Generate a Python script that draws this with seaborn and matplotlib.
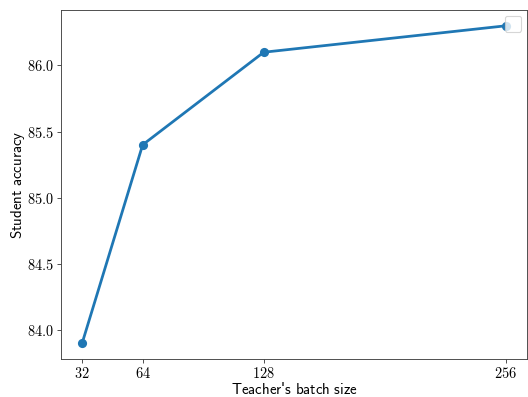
import matplotlib
matplotlib.use("Agg")
import matplotlib.pyplot as plt
import matplotlib.ticker as mticker
import seaborn as sns
import pandas as pd

batch_sizes = [32, 64, 128, 256]
accuracy = [83.9, 85.4, 86.1, 86.3]
xtick_labels = ["32", "64", "128", "256"]

plt.rcParams["mathtext.fontset"] = "cm"

df = pd.DataFrame({"batch": batch_sizes, "acc": accuracy})

DPI = 82.5
fig = plt.figure(figsize=(528 / DPI, 397 / DPI), dpi=DPI)
ax = fig.add_axes([0.1155, 0.0957, 0.8825, 0.8793])
sns.lineplot(data=df, x="batch", y="acc", marker="o", markersize=8,
             linewidth=2.4, color="#1f77b4", markeredgewidth=0, ax=ax)

ax.set_xticks(batch_sizes)
ax.set_xticklabels([r"$%s$" % t for t in xtick_labels])
ax.yaxis.set_major_locator(mticker.MultipleLocator(0.5))
ax.yaxis.set_major_formatter(mticker.FuncFormatter(lambda v, p: r"$%.1f$" % v))
ax.tick_params(axis="both", labelsize=12.5, pad=3)
for s in ax.spines.values():
    s.set_color("#444444")
ax.tick_params(colors="#444444", labelcolor="black")

ax.set_xlabel(r"$\mathsf{Teacher}$'$\mathsf{s\ batch\ size}$", fontsize=13, labelpad=0)
ax.set_ylabel(r"$\mathsf{Student\ accuracy}$", fontsize=13, labelpad=0)

ax.legend(handles=[], loc="upper right", borderpad=0.7)

fig.savefig("out.png", dpi=DPI)
